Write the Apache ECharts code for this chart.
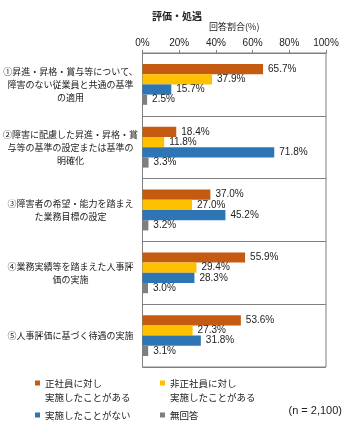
<!DOCTYPE html>
<html><head><meta charset="utf-8">
<script src="https://cdn.jsdelivr.net/npm/echarts@6/dist/echarts.min.js"></script>
<style>html,body{margin:0;padding:0;background:#fff}#c{width:350px;height:440px}</style>
</head><body><div id="c"></div>
<script>
const categories = [
  '①昇進・昇格・賞与等について、\n障害のない従業員と共通の基準\nの適用',
  '②障害に配慮した昇進・昇格・賞\n与等の基準の設定または基準の\n明確化',
  '③障害者の希望・能力を踏まえ\nた業務目標の設定',
  '④業務実績等を踏まえた人事評\n価の実施',
  '⑤人事評価に基づく待遇の実施'
];
const seriesNames = ['正社員に対し\n実施したことがある', '非正社員に対し\n実施したことがある', '実施したことがない', '無回答'];
const regular = [65.7, 18.4, 37.0, 55.9, 53.6];
const nonRegular = [37.9, 11.8, 27.0, 29.4, 27.3];
const never = [15.7, 71.8, 45.2, 28.3, 31.8];
const noAnswer = [2.5, 3.3, 3.2, 3.0, 3.1];
const xTicks = [0, 20, 40, 60, 80, 100];
const colors = ['#C55A11', '#FFC000', '#2E75B6', '#7F7F7F'];

const jp = '"Noto Sans CJK JP", sans-serif';
const latin = '"Liberation Sans", Arial, sans-serif';
const chart = echarts.init(document.getElementById('c'));
const values = [regular, nonRegular, never, noAnswer];
const legendPos = [
  {left: 35, top: 376}, {left: 160, top: 376}, {left: 35, top: 408}, {left: 160, top: 408}
];
// continuation lines of two-line legend names
const extraLines = [];
seriesNames.forEach((n, i) => {
  const parts = n.split('\n');
  if (parts.length > 1) {
    extraLines.push({type: 'text', left: legendPos[i].left + 10, top: legendPos[i].top + 17,
      style: {text: parts.slice(1).join('\n'), font: '9.5px "Noto Sans CJK JP", sans-serif', fill: '#222'}});
  }
});
chart.setOption({
  animation: false,
  color: colors,
  title: {text: '評価・処遇', left: 147, top: 6, textStyle: {fontFamily: jp, fontSize: 10, fontWeight: 'bold', color: '#222'}},
  grid: {left: 142, right: 24, top: 53, bottom: 73, show: true, borderColor: '#808080', borderWidth: 1},
  xAxis: {
    type: 'value', position: 'top', min: xTicks[0], max: xTicks[xTicks.length - 1], interval: 20,
    name: '回答割合(%)', nameLocation: 'middle', nameGap: 22,
    nameTextStyle: {fontFamily: jp, fontSize: 9, color: '#222'},
    axisLine: {show: true, lineStyle: {color: '#808080'}},
    axisTick: {show: true, length: 3, lineStyle: {color: '#808080'}},
    axisLabel: {formatter: '{value}%', fontFamily: latin, fontSize: 10, color: '#222', margin: 5},
    splitLine: {show: false}
  },
  yAxis: {
    type: 'category', inverse: true, data: categories,
    axisLine: {show: true, lineStyle: {color: '#808080'}},
    axisTick: {show: false},
    splitLine: {show: true, lineStyle: {color: '#808080'}},
    axisLabel: {align: 'center', margin: 72, fontFamily: jp, fontSize: 9, lineHeight: 13, color: '#222'}
  },
  legend: seriesNames.map((n, i) => ({
    data: [n], left: legendPos[i].left, top: legendPos[i].top, orient: 'horizontal', padding: 0,
    icon: 'rect', itemWidth: 5, itemHeight: 5, itemGap: 4,
    formatter: name => name.split('\n')[0],
    textStyle: {fontFamily: jp, fontSize: 9.5, color: '#222', lineHeight: 14}
  })),
  graphic: extraLines.concat([{type: 'text', right: 8, top: 405, style: {text: '(n = 2,100)', font: '11px "Liberation Sans", Arial, sans-serif', fill: '#222'}}]),
  series: seriesNames.map((n, i) => ({
    name: n, type: 'bar', data: values[i], barGap: '0%', barCategoryGap: '35%',
    label: {show: true, position: 'right', distance: 5, formatter: p => p.value.toFixed(1) + '%', fontFamily: latin, fontSize: 10, color: '#222'}
  }))
});
</script></body></html>
